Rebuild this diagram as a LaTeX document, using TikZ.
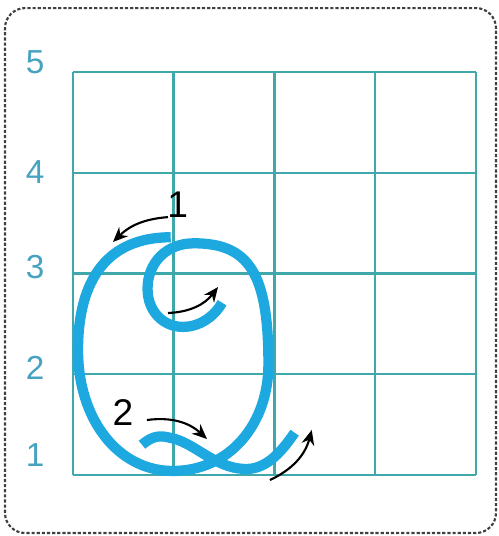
\documentclass[tikz,border=0pt]{standalone}
\usepackage{fontspec}
\setmainfont{Liberation Sans}
\usetikzlibrary{arrows.meta}

\definecolor{gridteal}{RGB}{64,168,170}
\definecolor{rowblue}{RGB}{70,162,192}
\definecolor{qblue}{RGB}{30,168,224}

\begin{document}
\begin{tikzpicture}[x=1cm,y=1cm,
  gridline/.style={gridteal,line width=0.7pt},
  rowlabel/.style={rowblue,font=\fontsize{9.4}{9.4}\selectfont,inner sep=0pt},
  qstroke/.style={qblue,line width=2.9pt},
  hint/.style={-{Stealth[length=4.2pt,width=3.6pt]},line width=0.6pt,black},
  hintlabel/.style={font=\fontsize{10.5}{10.5}\selectfont,inner sep=0pt}]
\useasboundingbox (-0.7246,-0.6055) rectangle (4.228,4.715);
% dashed frame
\draw[black!75,line width=0.6pt,dash pattern=on 0.9pt off 0.55pt,rounded corners=0.2cm]
  (-0.675,-0.576) rectangle (4.199,4.635);
% 4x4 writing grid
\draw[gridline] (0,0) grid (4,4);
% row numbers
\foreach \n/\y in {5/4.099,4/3.007,3/2.064,2/1.062,1/0.199} {
  \node[rowlabel] (row\n) at (-0.377,\y) {\n};
}
% stroke 1: oval and inner curl
\draw[qstroke] (0.97,2.36) .. controls (0.35,2.36) and (0.05,1.95) .. (0.05,1.24)
  .. controls (0.05,0.55) and (0.45,0.04) .. (0.99,0.04)
  .. controls (1.55,0.04) and (1.94,0.5) .. (1.94,1.1)
  .. controls (1.94,2.0) and (1.75,2.30) .. (1.2,2.30)
  .. controls (0.92,2.30) and (0.74,2.1) .. (0.74,1.85)
  .. controls (0.74,1.62) and (0.9,1.47) .. (1.09,1.47)
  .. controls (1.28,1.47) and (1.42,1.6) .. (1.48,1.71);
% stroke 2: tail
\draw[qstroke] (0.685,0.30) .. controls (0.8,0.40) and (0.88,0.39) .. (0.96,0.37)
  .. controls (1.2,0.33) and (1.4,0.07) .. (1.7,0.06)
  .. controls (1.9,0.05) and (2.05,0.2) .. (2.2,0.42);
% direction hints
\coordinate (h1s) at (0.943,2.56);
\coordinate (h1e) at (0.397,2.313);
\coordinate (h2s) at (0.943,1.608);
\coordinate (h2e) at (1.44,1.866);
\coordinate (h3s) at (0.734,0.546);
\coordinate (h3e) at (1.33,0.357);
\coordinate (h4s) at (1.955,-0.05);
\coordinate (h4e) at (2.37,0.447);
\draw[hint] (h1s) to[bend right=20] (h1e);
\draw[hint] (h2s) to[bend right=25] (h2e);
\draw[hint] (h3s) to[bend left=25] (h3e);
\draw[hint] (h4s) to[bend right=25] (h4e);
\node[hintlabel] (one) at (1.04,2.68) {1};
\node[hintlabel] (two) at (0.496,0.625) {2};
\end{tikzpicture}
\end{document}
